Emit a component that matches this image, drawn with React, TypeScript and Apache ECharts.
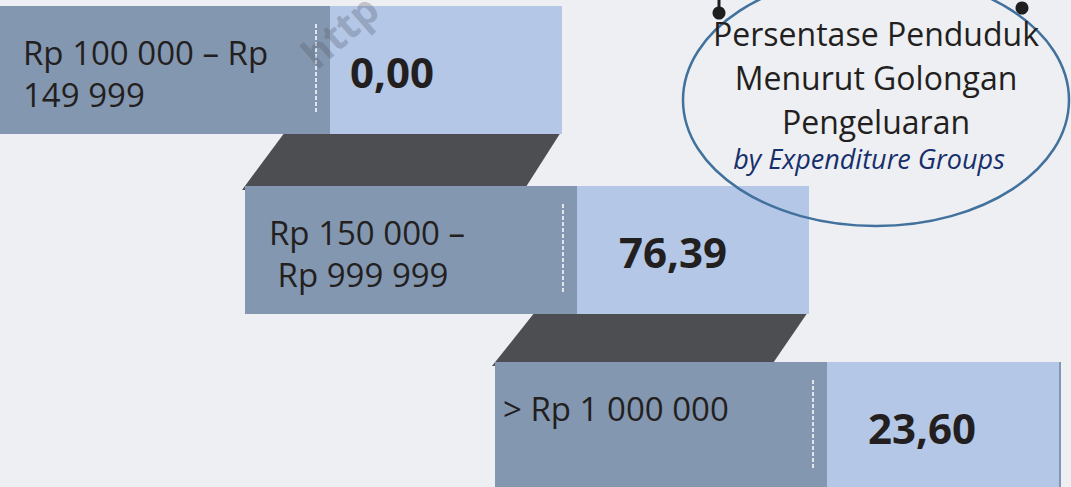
import React, { useEffect, useRef } from "react";
import * as echarts from "echarts";

// ---- data ----
const categories = ["Rp 100 000 – Rp\n149 999", "Rp 150 000 –\n Rp 999 999", "> Rp 1 000 000"];
const values = [0.0, 76.39, 23.6];
const valueLabels = values.map((v) => v.toFixed(2).replace(".", ","));
const titleLines = ["Persentase Penduduk", "Menurut Golongan", "Pengeluaran"];
const subtitle = "by Expenditure Groups";
const watermark = "http";

// ---- layout ----
const W = 1071;
const H = 487;
const BOX_X = [-2, 245, 495];
const BOX_Y = [6, 186, 362];
const DARK_W = 332;
const LIGHT_W = 232;
const BOX_H = 128;
const LABEL_DX = [25, 24, 8];
const VALUE_DX = [20, 42, 41];

const FONT = "'Open Sans', 'Noto Sans', sans-serif";
const C_BG = "#edeff3";
const C_DARK = "#8497b0";
const C_LIGHT = "#b4c7e7";
const C_CONN = "#4d4e51";
const C_TEXT = "#231f20";

export default function App() {
  const ref = useRef<HTMLDivElement>(null);

  useEffect(() => {
    if (!ref.current) return;
    const chart = echarts.init(ref.current, undefined, { renderer: "svg" });

    const boxData = categories.map((c, i) => [i, values[i]]);
    const connData = categories.slice(1).map((c, i) => [i]);

    const option: any = {
      animation: false,
      backgroundColor: C_BG,
      grid: { left: 0, right: 0, top: 0, bottom: 0 },
      xAxis: { type: "value", min: 0, max: W, show: false },
      yAxis: { type: "value", min: 0, max: H, inverse: true, show: false },
      series: [
        {
          type: "custom",
          z: 1,
          clip: false,
          data: connData,
          renderItem: (params: any, api: any) => {
            const i = api.value(0);
            const right = BOX_X[i] + DARK_W + LIGHT_W - 1;
            const topY = BOX_Y[i] + BOX_H - 2;
            const botY = BOX_Y[i + 1] + 4;
            const pts = [
              [BOX_X[i + 1] + 40, topY],
              [right, topY],
              [right - 37, botY],
              [BOX_X[i + 1] - 3, botY],
            ].map((p) => api.coord(p));
            return { type: "polygon", shape: { points: pts }, style: { fill: C_CONN } };
          },
        },
        {
          type: "custom",
          z: 2,
          clip: false,
          data: boxData,
          renderItem: (params: any, api: any) => {
            const i = api.value(0);
            const [x0, y0] = api.coord([BOX_X[i], BOX_Y[i]]);
            const xl = x0 + DARK_W;
            const children: any[] = [
              { type: "rect", shape: { x: x0, y: y0, width: DARK_W, height: BOX_H }, style: { fill: C_DARK } },
              { type: "rect", shape: { x: xl, y: y0, width: LIGHT_W, height: BOX_H }, style: { fill: C_LIGHT } },
              {
                type: "line",
                shape: { x1: xl - 14, y1: y0 + 18, x2: xl - 14, y2: y0 + 108 },
                style: { stroke: "#ffffff", lineWidth: 1.5, lineDash: [4, 2] },
              },
              {
                type: "text",
                x: x0 + LABEL_DX[i],
                y: y0 + 25,
                style: {
                  text: categories[i],
                  fill: C_TEXT,
                  fontFamily: FONT,
                  fontSize: 33,
                  lineHeight: 42,
                  textAlign: "left",
                  textVerticalAlign: "top",
                  align: "left",
                  verticalAlign: "top",
                },
              },
              {
                type: "text",
                x: xl + VALUE_DX[i],
                y: y0 + 65,
                style: {
                  text: valueLabels[i],
                  fill: C_TEXT,
                  fontFamily: FONT,
                  fontSize: 42,
                  fontWeight: "bold",
                  textAlign: "left",
                  textVerticalAlign: "middle",
                  align: "left",
                  verticalAlign: "middle",
                },
              },
            ];
            if (i === categories.length - 1) {
              children.push({
                type: "line",
                shape: { x1: xl + LIGHT_W + 1, y1: y0, x2: xl + LIGHT_W + 1, y2: y0 + BOX_H },
                style: { stroke: C_DARK, lineWidth: 2 },
              });
            }
            return { type: "group", children };
          },
        },
      ],
      graphic: [
        {
          type: "ellipse",
          z: 10,
          shape: { cx: 876, cy: 100, rx: 193, ry: 126 },
          style: { fill: "none", stroke: "#41719c", lineWidth: 2.5 },
        },
        {
          type: "line",
          z: 11,
          shape: { x1: 719, y1: 0, x2: 719, y2: 12 },
          style: { stroke: "#1e1e1e", lineWidth: 3 },
        },
        { type: "circle", z: 11, shape: { cx: 719, cy: 13, r: 6.5 }, style: { fill: "#1e1e1e" } },
        { type: "circle", z: 11, shape: { cx: 1022, cy: 8, r: 6.5 }, style: { fill: "#1e1e1e" } },
        ...titleLines.map((t, k) => ({
          type: "text",
          z: 12,
          x: 876,
          y: 33 + k * 44,
          style: {
            text: t,
            fill: C_TEXT,
            fontFamily: FONT,
            fontSize: 32,
            lineHeight: 34,
            textAlign: "center",
            textVerticalAlign: "middle",
            align: "center",
            verticalAlign: "middle",
          },
        })),
        {
          type: "text",
          z: 12,
          x: 869,
          y: 158,
          style: {
            text: subtitle,
            fill: "#172f6b",
            fontFamily: FONT,
            fontSize: 27,
            lineHeight: 28,
            fontStyle: "italic",
            textAlign: "center",
            textVerticalAlign: "middle",
            align: "center",
            verticalAlign: "middle",
          },
        },
        {
          type: "text",
          z: 20,
          x: 320,
          y: 74,
          rotation: 0.72,
          style: {
            text: watermark,
            fill: "rgba(80,85,95,0.3)",
            fontFamily: FONT,
            fontSize: 40,
            fontWeight: "bold",
            textAlign: "left",
            textVerticalAlign: "bottom",
            align: "left",
            verticalAlign: "bottom",
          },
        },
      ],
    };

    chart.setOption(option);
    return () => chart.dispose();
  }, []);

  return <div ref={ref} style={{ position: "fixed", left: 0, top: 0, width: W, height: H }} />;
}
